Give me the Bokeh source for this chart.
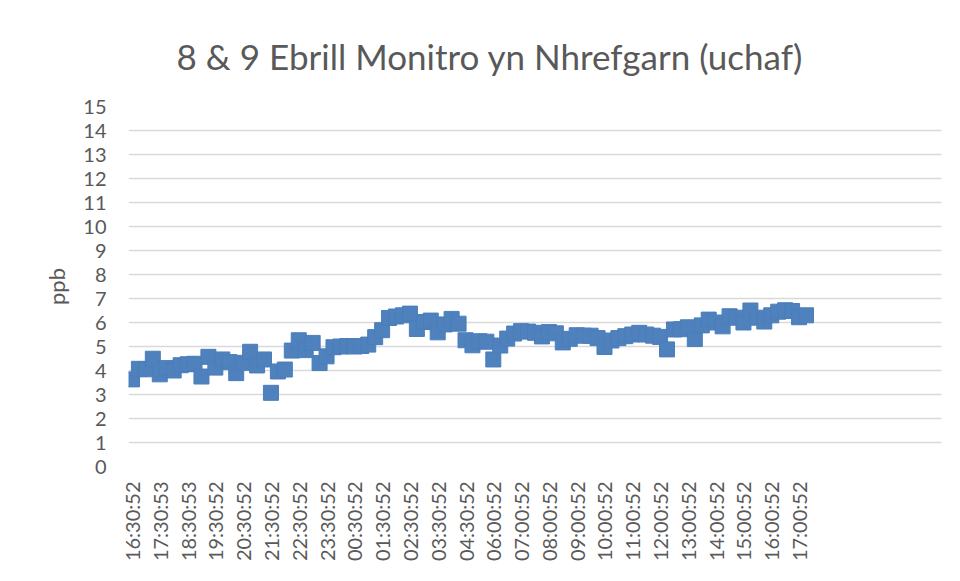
from math import pi
from bokeh.plotting import figure
from bokeh.models import Range1d, FixedTicker
from bokeh.embed import file_html
from bokeh.resources import INLINE

# ---- data ----
title_text = "8 & 9 Ebrill Monitro yn Nhrefgarn (uchaf)"
y_label = "ppb"
tick_labels = ["16:30:52", "17:30:53", "18:30:53", "19:30:52", "20:30:52", "21:30:52",
               "22:30:52", "23:30:52", "00:30:52", "01:30:52", "02:30:52", "03:30:52",
               "04:30:52", "06:00:52", "07:00:52", "08:00:52", "09:00:52", "10:00:52",
               "11:00:52", "12:00:52", "13:00:52", "14:00:52", "15:00:52", "16:00:52",
               "17:00:52"]
label_every = 4
n_categories = 117
values = [3.63, 4.07, 4.05, 4.49, 3.84, 4.10, 4.00, 4.22, 4.26, 4.28,
          3.75, 4.57, 4.12, 4.46, 4.35, 3.89, 4.32, 4.78, 4.21, 4.46,
          3.07, 3.96, 4.04, 4.83, 5.26, 4.85, 5.15, 4.31, 4.59, 4.97,
          5.00, 5.02, 5.00, 5.02, 5.08, 5.39, 5.68, 6.19, 6.25, 6.30,
          6.37, 5.73, 6.02, 6.08, 5.59, 5.92, 6.15, 5.95, 5.26, 5.05,
          5.22, 5.20, 4.46, 5.04, 5.33, 5.54, 5.64, 5.62, 5.57, 5.42,
          5.60, 5.55, 5.17, 5.32, 5.47, 5.45, 5.45, 5.35, 4.98, 5.25,
          5.35, 5.43, 5.50, 5.57, 5.50, 5.45, 5.40, 4.88, 5.71, 5.72,
          5.80, 5.31, 5.88, 6.12, 6.00, 5.84, 6.26, 6.20, 6.00, 6.50,
          6.20, 6.04, 6.30, 6.45, 6.51, 6.48, 6.22, 6.30]
y_ticks = list(range(0, 16))

xs = list(range(len(values)))
tick_pos = [i * label_every for i in range(len(tick_labels))]

FONT = "Lato"
GREY = "#595959"

p = figure(width=952, height=573, output_backend="svg", toolbar_location=None,
           x_range=Range1d(-0.5, n_categories - 0.5), y_range=Range1d(0, 15),
           min_border_left=128, min_border_right=11, min_border_top=106,
           min_border_bottom=107, title=title_text)

p.title.text_font = FONT
p.title.text_font_size = "35px"
p.title.text_font_style = "normal"
p.title.text_color = GREY
p.title.align = "left"
p.title.offset = 48
p.title.standoff = 60

p.outline_line_color = None
p.background_fill_color = "white"
p.border_fill_color = "white"

p.xgrid.grid_line_color = None
p.ygrid.grid_line_color = "#d9d9d9"
p.ygrid.grid_line_width = 1.5
p.ygrid.ticker = FixedTicker(ticks=y_ticks)

p.yaxis.ticker = FixedTicker(ticks=y_ticks)
p.yaxis.axis_line_color = None
p.yaxis.major_tick_line_color = None
p.yaxis.minor_tick_line_color = None
p.yaxis.major_tick_out = 0
p.yaxis.major_tick_in = 0
p.yaxis.major_label_standoff = 22
p.yaxis.major_label_text_font = FONT
p.yaxis.major_label_text_font_size = "20px"
p.yaxis.major_label_text_color = GREY
p.yaxis.axis_label = y_label
p.yaxis.axis_label_text_font = FONT
p.yaxis.axis_label_text_font_size = "22px"
p.yaxis.axis_label_text_font_style = "normal"
p.yaxis.axis_label_text_color = GREY
p.yaxis.axis_label_standoff = 10

p.xaxis.ticker = FixedTicker(ticks=tick_pos)
p.xaxis.major_label_overrides = {t: l for t, l in zip(tick_pos, tick_labels)}
p.xaxis.major_label_orientation = pi / 2
p.xaxis.axis_line_color = None
p.xaxis.major_tick_line_color = None
p.xaxis.minor_tick_line_color = None
p.xaxis.major_tick_out = 0
p.xaxis.major_tick_in = 0
p.xaxis.major_label_standoff = 15
p.xaxis.major_label_text_font = FONT
p.xaxis.major_label_text_font_size = "20px"
p.xaxis.major_label_text_color = GREY

p.scatter(xs, values, marker="square", size=15, fill_color="#4F81BD",
          line_color="#4A7EBB", line_width=1)

open("out.html", "w").write(file_html(p, INLINE))
